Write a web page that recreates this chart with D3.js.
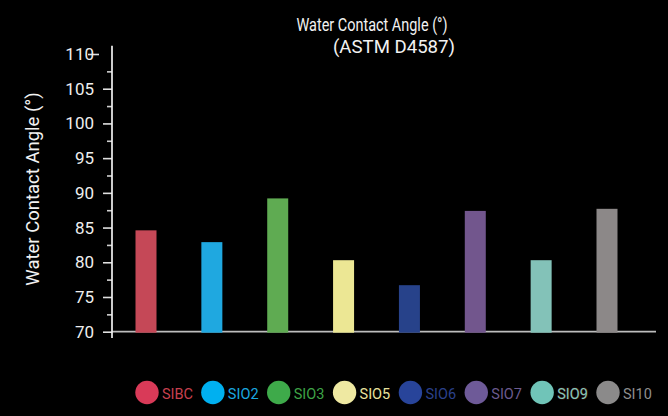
<!DOCTYPE html>
<html>
<head>
<meta charset="utf-8">
<script src="https://cdn.jsdelivr.net/npm/d3@7"></script>
<style>
  body { margin: 0; background: #000; }
  text { font-family: Roboto, "Noto Sans", sans-serif; }
</style>
</head>
<body>
<svg id="chart" width="668" height="416"></svg>
<script>
// data
var categories = ["SIBC", "SIO2", "SIO3", "SIO5", "SIO6", "SIO7", "SIO9", "SI10"];
var values = [84.6, 82.9, 89.2, 80.3, 76.7, 87.4, 80.3, 87.7];
var majorTicks = [70, 75, 80, 85, 90, 95, 100, 105, 110];
var minorTicks = [72.5, 77.5, 82.5, 87.5, 92.5, 97.5, 102.5, 107.5];

// styles
var barColors = ["#c54857", "#1fa8e0", "#5fab52", "#ece794", "#27428a", "#72568d", "#83c2b8", "#8c8888"];
var dotColors = ["#d93a58", "#00b0f0", "#3eaa4a", "#efe9a2", "#28449a", "#6e5a98", "#70c4b8", "#8b8a8a"];
var textColors = ["#c9404f", "#1aa8e0", "#3ea447", "#e9e39d", "#2b418c", "#6c5b8f", "#80c9bb", "#8e8e8e"];

var svg = d3.select("#chart");

var x = d3.scalePoint()
  .domain(categories)
  .range([146, 607]);

var y = d3.scaleLinear()
  .domain([70, 110])
  .range([331.7, 54]);

var barWidth = 21;

// title
svg.append("text")
  .attr("x", 372).attr("y", 31)
  .attr("text-anchor", "middle")
  .attr("fill", "#f2f2f2")
  .style("font-size", "17.5px")
  .attr("textLength", 151)
  .attr("lengthAdjust", "spacingAndGlyphs")
  .text("Water Contact Angle (°)");

svg.append("text")
  .attr("x", 394).attr("y", 52.5)
  .attr("text-anchor", "middle")
  .attr("fill", "#f2f2f2")
  .style("font-size", "17.5px")
  .attr("textLength", 122)
  .attr("lengthAdjust", "spacingAndGlyphs")
  .text("(ASTM D4587)");

// y label
svg.append("text")
  .attr("transform", "translate(38.5,189) rotate(-90)")
  .attr("text-anchor", "middle")
  .attr("fill", "#f2f2f2")
  .style("font-size", "18.5px")
  .text("Water Contact Angle (°)");

// x baseline
svg.append("line")
  .attr("x1", 112).attr("x2", 656)
  .attr("y1", y(70)).attr("y2", y(70))
  .attr("stroke", "#bdbdbd")
  .attr("stroke-width", 1.8);

// y axis
var yAxis = svg.append("g")
  .attr("class", "axis axis--y")
  .attr("transform", "translate(112,0)")
  .call(d3.axisLeft(y).tickValues(majorTicks).tickSize(9).tickPadding(9).tickFormat(d3.format("d")));

yAxis.select(".domain").remove();
yAxis.selectAll(".tick line").attr("stroke", "#e0e0e0").attr("stroke-width", 1.6);
yAxis.selectAll(".tick text")
  .attr("fill", "#eeeeee")
  .style("font-size", "17px")
  .style("font-family", "Roboto, sans-serif");

// the 110 tick sits off the axis, over its label
yAxis.selectAll(".tick").filter(function (d) { return d === 110; })
  .select("line").attr("x1", -24).attr("x2", -13);

var yMinor = svg.append("g")
  .attr("transform", "translate(112,0)")
  .call(d3.axisLeft(y).tickValues(minorTicks).tickSize(5).tickFormat(""));
yMinor.select(".domain").remove();
yMinor.selectAll(".tick line").attr("stroke", "#d0d0d0").attr("stroke-width", 1.6);

svg.append("line")
  .attr("x1", 112).attr("x2", 112)
  .attr("y1", y(111.2)).attr("y2", y(69.1))
  .attr("stroke", "#f0f0f0")
  .attr("stroke-width", 1.7);

// bars
svg.append("g")
  .selectAll("rect")
  .data(values)
  .enter().append("rect")
  .attr("x", function (d, i) { return x(categories[i]) - barWidth / 2; })
  .attr("y", function (d) { return y(d); })
  .attr("width", barWidth)
  .attr("height", function (d) { return y(70) - y(d) + 1; })
  .attr("fill", function (d, i) { return barColors[i]; });

// legend
var legend = svg.append("g")
  .selectAll("g")
  .data(categories)
  .enter().append("g")
  .attr("transform", function (d) { return "translate(" + (x(d) + 1) + ",392.5)"; });

legend.append("circle")
  .attr("r", 11.7)
  .attr("fill", function (d, i) { return dotColors[i]; });

legend.append("text")
  .attr("x", 15)
  .attr("y", 6.5)
  .attr("fill", function (d, i) { return textColors[i]; })
  .style("font-size", "14.5px")
  .attr("stroke", function (d) { return d === "SIO9" ? "#3a1010" : "none"; })
  .attr("stroke-width", 1.2)
  .attr("paint-order", "stroke")
  .text(function (d) { return d; });
</script>
</body>
</html>
